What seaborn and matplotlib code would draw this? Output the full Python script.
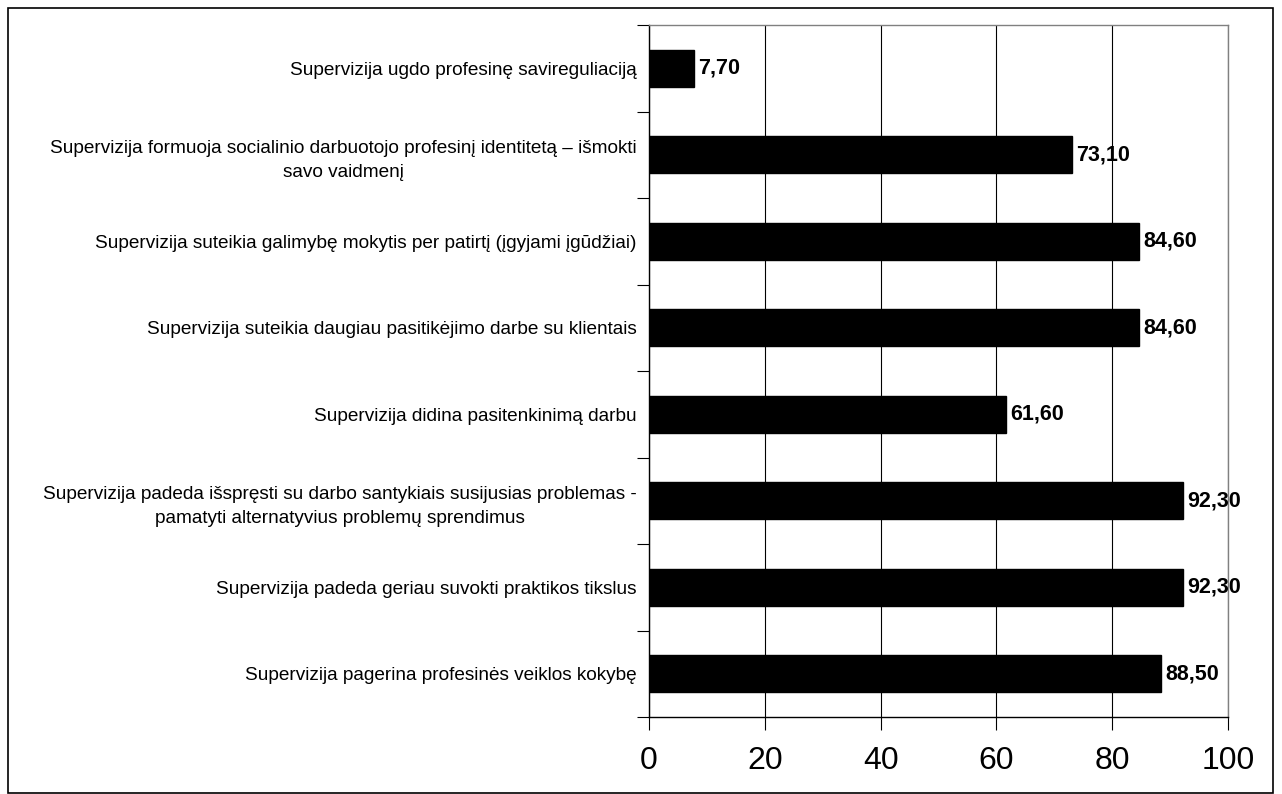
import matplotlib
matplotlib.use("Agg")
import matplotlib.pyplot as plt
from matplotlib.patches import Rectangle
from matplotlib.ticker import FixedLocator
import seaborn as sns
import pandas as pd

statements = [
    "Supervizija ugdo profesinę savireguliaciją",
    "Supervizija formuoja socialinio darbuotojo profesinį identitetą – išmokti\nsavo vaidmenį",
    "Supervizija suteikia galimybę mokytis per patirtį (įgyjami įgūdžiai)",
    "Supervizija suteikia daugiau pasitikėjimo darbe su klientais",
    "Supervizija didina pasitenkinimą darbu",
    "Supervizija padeda išspręsti su darbo santykiais susijusias problemas -\npamatyti alternatyvius problemų sprendimus",
    "Supervizija padeda geriau suvokti praktikos tikslus",
    "Supervizija pagerina profesinės veiklos kokybę",
]
percent = [7.70, 73.10, 84.60, 84.60, 61.60, 92.30, 92.30, 88.50]
x_ticks = [0, 20, 40, 60, 80, 100]

df = pd.DataFrame({"statement": statements, "percent": percent})

sns.set_theme(style="white")
plt.rcParams["font.family"] = ["Liberation Sans", "DejaVu Sans"]
plt.rcParams["text.color"] = "black"
plt.rcParams["xtick.color"] = "black"
plt.rcParams["ytick.color"] = "black"
plt.rcParams["xtick.labelcolor"] = "black"
plt.rcParams["ytick.labelcolor"] = "black"

fig = plt.figure(figsize=(12.82, 7.94), dpi=100)
ax = fig.add_axes([649 / 1282, 1 - 717 / 794, (1228 - 649) / 1282, (717 - 25) / 794])

sns.barplot(data=df, x="percent", y="statement", orient="h", color="black",
            saturation=1, width=0.43, ax=ax, edgecolor="black")

ax.set_xlim(0, 100)
ax.set_ylim(len(statements) - 0.5, -0.5)
ax.set_xticks(x_ticks)
ax.set_xticklabels([str(t) for t in x_ticks], fontsize=23)
ax.xaxis.grid(True, color="black", linewidth=0.8)
ax.set_axisbelow(True)
ax.set_xlabel("")
ax.set_ylabel("")

# category labels centered on bars, tick marks on the category boundaries
ax.yaxis.set_major_locator(FixedLocator(list(range(len(statements)))))
ax.set_yticklabels(statements, fontsize=13.7, multialignment="center", linespacing=1.55)
ax.tick_params(axis="y", which="major", length=0, pad=9)
ax.yaxis.set_minor_locator(FixedLocator([i - 0.5 for i in range(len(statements) + 1)]))
ax.tick_params(axis="y", which="minor", length=9, width=0.8, color="black", direction="out", left=True)
ax.tick_params(axis="x", length=9, width=0.8, color="black", direction="out", bottom=True, pad=12)

for side in ("left", "bottom"):
    ax.spines[side].set_color("black")
    ax.spines[side].set_linewidth(1.0)
for side in ("top", "right"):
    ax.spines[side].set_color("#808080")
    ax.spines[side].set_linewidth(1.0)

ax.bar_label(ax.containers[0], labels=[f"{v:.2f}".replace(".", ",") for v in percent],
             padding=3, fontsize=15.5, fontweight="bold", color="black")

# outer chart frame
fig.patches.append(Rectangle((8 / 1282, 1 - 793 / 794), (1273 - 8) / 1282, (793 - 8) / 794,
                             transform=fig.transFigure, fill=False,
                             edgecolor="black", linewidth=1.2))

fig.savefig("out.png", dpi=100)
